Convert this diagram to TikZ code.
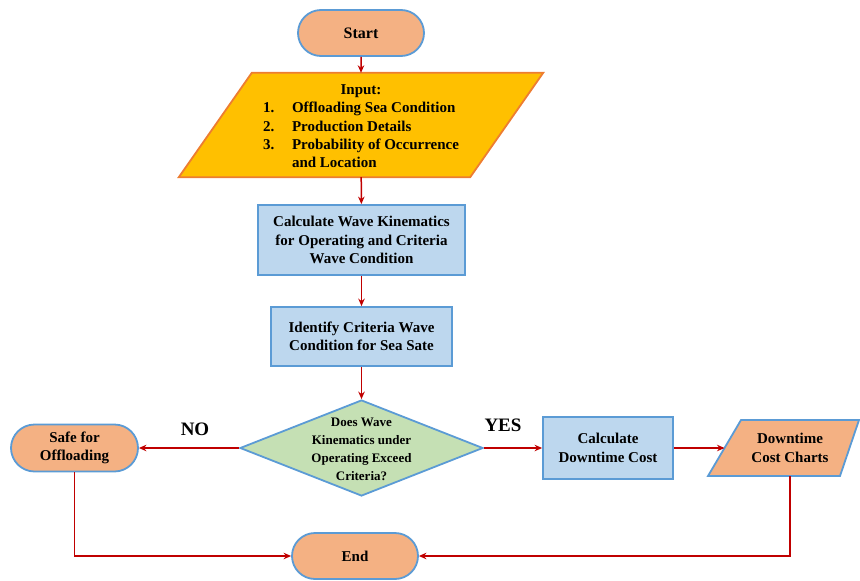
\documentclass[tikz,border=0pt]{standalone}
\usepackage{fontspec}
\setmainfont{Liberation Serif}
\usetikzlibrary{shapes.misc,shapes.geometric,arrows.meta,calc,backgrounds}
\definecolor{termfill}{HTML}{F4B183}
\definecolor{blueedge}{HTML}{5B9BD5}
\definecolor{procfill}{HTML}{BDD7EE}
\definecolor{decfill}{HTML}{C5E0B4}
\definecolor{inpfill}{HTML}{FFC000}
\definecolor{inpedge}{HTML}{ED7D31}
\definecolor{arrowred}{HTML}{C00000}
\tikzset{
  txt/.style={font=\fontsize{15}{18.4}\selectfont\bfseries, align=center, text=black},
  term/.style={txt, rounded rectangle, rounded rectangle arc length=180, fill=termfill, draw=blueedge, line width=1.8pt, inner sep=0pt},
  proc/.style={txt, rectangle, fill=procfill, draw=blueedge, line width=1.8pt, inner sep=0pt},
  decis/.style={diamond, fill=decfill, draw=blueedge, line width=1.8pt, inner sep=0pt},
  io/.style={line width=1.8pt, line join=miter},
  conn/.style={draw=arrowred, line width=1.5pt, -{Stealth[length=7.5pt,width=6.5pt]}},
  yesno/.style={font=\fontsize{19}{22}\selectfont\bfseries}
}
\begin{document}
\begin{tikzpicture}[x=1pt,y=-1pt]
\useasboundingbox (0,0) rectangle (860,581);

% Start
\node[term, minimum width=126pt, minimum height=46pt, font=\fontsize{16}{19}\selectfont\bfseries] (start) at (361,33) {Start};

% Input parallelogram
\node[inner sep=0pt, minimum width=291pt, minimum height=104pt] (inp) at (361,125) {};
\draw[io, fill=inpfill, draw=inpedge]
  ($(inp.north west)+(36.5,0)$) -- ($(inp.north east)+(36.5,0)$) --
  ($(inp.south east)+(-36.5,0)$) -- ($(inp.south west)+(-36.5,0)$) -- cycle;
\node[txt, inner sep=0pt] (inptxt) at (361,127.5) {%
\begin{tabular}{@{}l@{}l@{}}
\multicolumn{2}{c}{Input:}\\[-0.1pt]
\makebox[29pt][l]{1.} & Offloading Sea Condition\\[-0.1pt]
\makebox[29pt][l]{2.} & Production Details\\[-0.1pt]
\makebox[29pt][l]{3.} & Probability of Occurrence\\[-0.1pt]
 & and Location
\end{tabular}};

% Process boxes
\node[proc, minimum width=207pt, minimum height=70pt] (calc) at (361.5,240) {Calculate Wave Kinematics\\for Operating and Criteria\\Wave Condition};
\node[proc, minimum width=181pt, minimum height=59pt] (ident) at (361.5,336.5) {Identify Criteria Wave\\Condition for Sea Sate};

% Decision
\node[decis, minimum width=243pt, minimum height=96pt] (dec) at (361.5,448) {};
\node[txt, font=\fontsize{13}{17.8}\selectfont\bfseries] (dectxt) at (361.5,449.5) {Does Wave\\Kinematics under\\Operating Exceed\\Criteria?};

% Safe
\node[term, minimum width=127pt, minimum height=47pt] (safe) at (74.5,448) {Safe for\\Offloading};

% Calculate downtime
\node[proc, minimum width=130pt, minimum height=62pt] (cd) at (608,448) {Calculate\\Downtime Cost};

% Downtime charts
\draw[io, fill=termfill, draw=blueedge] (741,420) -- (859,420) -- (840,476) -- (708,476) -- cycle;
\node[txt] (charts) at (790,448) {Downtime\\Cost Charts};
\coordinate (chl) at (724.5,448);
\coordinate (chb) at (790,476);

% End
\node[term, minimum width=126pt, minimum height=46pt] (end) at (355,556) {End};

% Labels
\node[yesno] (no) at (195,429) {NO};
\node[yesno] (yes) at (503,425) {YES};

% Connectors
\draw[conn] (start) -- (inp);
\draw[conn] (inp) -- (calc);
\draw[conn] (calc) -- (ident);
\draw[conn] (ident) -- (dec);
\draw[conn] (dec.west) -- (safe.east);
\draw[conn] (dec.east) -- (cd.west);
\draw[conn] (cd.east) -- (chl);
\draw[conn] (safe.south) |- (end.west);
\draw[conn] (chb) |- (end.east);
\end{tikzpicture}
\end{document}
